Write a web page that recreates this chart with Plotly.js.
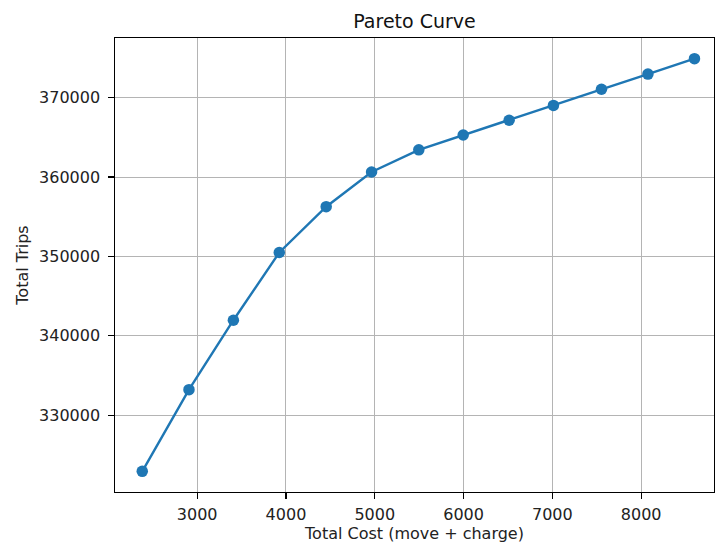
<!DOCTYPE html>
<html>
<head>
<meta charset="utf-8">
<script src="https://cdn.plot.ly/plotly-3.0.1.min.js"></script>
<style>html,body{margin:0;padding:0;background:#fff;}#chart{width:715px;height:546px;}</style>
</head>
<body>
<div id="chart"></div>
<script>
const totalCost = [2382, 2908, 3408, 3925, 4453, 4964, 5496, 5996, 6513, 7012, 7553, 8076, 8600];
const totalTrips = [322930, 333220, 341970, 350500, 356270, 360640, 363430, 365300, 367160, 369030, 371060, 372970, 374920];
const xTicks = [3000, 4000, 5000, 6000, 7000, 8000];
const yTicks = [330000, 340000, 350000, 360000, 370000];

const font = {family: 'DejaVu Sans, sans-serif', size: 16, color: '#222'};
const axisCommon = {
  showline: true, linecolor: '#000', linewidth: 1.2, mirror: true,
  ticks: 'outside', ticklen: 5.5, tickwidth: 1.2, tickcolor: '#000',
  showgrid: true, gridcolor: '#b4b4b4', gridwidth: 1,
  zeroline: false, tickfont: font
};
const trace = {
  x: totalCost, y: totalTrips, type: 'scatter', mode: 'lines+markers',
  line: {color: '#1f77b4', width: 2.4},
  marker: {color: '#1f77b4', size: 11.5}
};
const layout = {
  width: 715, height: 546,
  margin: {l: 115, r: 1, t: 38, b: 54},
  paper_bgcolor: '#fff', plot_bgcolor: '#fff',
  showlegend: false,
  font: font,
  title: {text: 'Pareto Curve', font: {family: 'DejaVu Sans, sans-serif', size: 19, color: '#111'}, xref: 'paper', x: 0.5, xanchor: 'center', y: 0.9606, yanchor: 'middle'},
  xaxis: Object.assign({}, axisCommon, {
    range: [2075, 8820], tickvals: xTicks, ticktext: xTicks.map(String),
    ticklabelstandoff: 2,
    title: {text: 'Total Cost (move + charge)', font: font, standoff: 4}
  }),
  yaxis: Object.assign({}, axisCommon, {
    range: [320330, 377520], tickvals: yTicks, ticktext: yTicks.map(String),
    ticklabelstandoff: 5,
    title: {text: 'Total Trips', font: font, standoff: 6}
  })
};
Plotly.newPlot('chart', [trace], layout, {displayModeBar: false, staticPlot: true});
</script>
</body>
</html>
